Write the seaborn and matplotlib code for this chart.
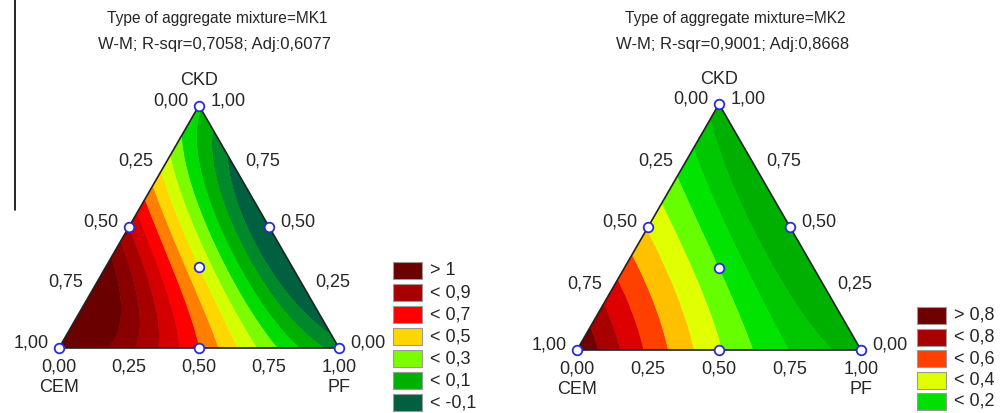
import numpy as np
import matplotlib
matplotlib.use("Agg")
import matplotlib.pyplot as plt
import matplotlib.tri as mtri
from matplotlib.patches import Rectangle
import seaborn as sns
import pandas as pd

# Mixture components and axis ticks
components = ["CEM", "PF", "CKD"]
tick_values = [0.0, 0.25, 0.5, 0.75, 1.0]
tick_labels = ["0,00", "0,25", "0,50", "0,75", "1,00"]

# Scheffé cubic model for W-M, aggregate mixture MK1
mk1_linear = [1.11, -0.05, 0.12]      # CEM, PF, CKD
mk1_binary = [0.28, 0.74, -1.14]      # CEM*PF, CEM*CKD, PF*CKD
mk1_cubic = [0.55, 1.5, 0.0]          # CEM*PF*(CEM-PF), CEM*CKD*(CEM-CKD), PF*CKD*(PF-CKD)
mk1_ternary = 0.5                     # CEM*PF*CKD
mk1_title = ["Type of aggregate mixture=MK1", "W-M; R-sqr=0,7058; Adj:0,6077"]
mk1_levels = [-0.1, 0.0, 0.1, 0.2, 0.3, 0.4, 0.5, 0.6, 0.7, 0.8, 0.9, 1.0]
mk1_colors = ["#006040", "#00892a", "#00b000", "#00dc00", "#7cfc00", "#d4ff00",
              "#ffd700", "#ff8000", "#ff0000", "#d40000", "#a80000", "#8a0000", "#6b0000"]
mk1_legend_labels = ["> 1", "< 0,9", "< 0,7", "< 0,5", "< 0,3", "< 0,1", "< -0,1"]
mk1_legend_colors = ["#6b0000", "#a80000", "#ff0000", "#ffd700", "#7cfc00", "#00b000", "#006040"]

# Scheffé cubic model for W-M, aggregate mixture MK2
mk2_linear = [0.9, -0.05, -0.05]
mk2_binary = [-0.46, -0.14, -0.4]
mk2_cubic = [0.05, 0.0, 0.0]
mk2_ternary = 1.2
mk2_title = ["Type of aggregate mixture=MK2", "W-M; R-sqr=0,9001; Adj:0,8668"]
mk2_levels = [0.0, 0.1, 0.2, 0.3, 0.4, 0.5, 0.6, 0.7, 0.8]
mk2_colors = ["#00b000", "#00c800", "#00e400", "#66ff00", "#e0ff00",
              "#ffc000", "#ff4000", "#dc0000", "#a80000", "#6e0000"]
mk2_legend_labels = ["> 0,8", "< 0,8", "< 0,6", "< 0,4", "< 0,2"]
mk2_legend_colors = ["#6e0000", "#a80000", "#ff4000", "#e0ff00", "#00e000"]

# Simplex-centroid design points (CEM, PF, CKD)
design = pd.DataFrame({
    "CEM": [1, 0, 0, 0.5, 0.5, 0, 1 / 3],
    "PF": [0, 1, 0, 0.5, 0, 0.5, 1 / 3],
    "CKD": [0, 0, 1, 0, 0.5, 0.5, 1 / 3],
})

H = np.sqrt(3) / 2
W_PX, H_PX = 1000, 413


def to_xy(pf, ckd):
    return np.asarray(pf) + 0.5 * np.asarray(ckd), H * np.asarray(ckd)


def response(x1, x2, x3, lin, bin_, cub, ter):
    return (lin[0] * x1 + lin[1] * x2 + lin[2] * x3
            + bin_[0] * x1 * x2 + bin_[1] * x1 * x3 + bin_[2] * x2 * x3
            + cub[0] * x1 * x2 * (x1 - x2) + cub[1] * x1 * x3 * (x1 - x3)
            + cub[2] * x2 * x3 * (x2 - x3) + ter * x1 * x2 * x3)


sns.set_style("white")
plt.rcParams["font.family"] = ["Liberation Sans", "DejaVu Sans"]

fig = plt.figure(figsize=(W_PX / 100, H_PX / 100), dpi=100)

base = mtri.Triangulation([0, 1, 0.5], [0, 0, H])
fine = mtri.UniformTriRefiner(base).refine_triangulation(subdiv=7)
ckd_f = fine.y / H
pf_f = fine.x - 0.5 * ckd_f
cem_f = 1 - pf_f - ckd_f


def panel(left_px, bottom_px, side_px, lin, bin_, cub, ter, levels, colors, title, title_x):
    ax = fig.add_axes([left_px / W_PX, (H_PX - bottom_px) / H_PX,
                       side_px / W_PX, side_px * H / H_PX])
    z = response(cem_f, pf_f, ckd_f, lin, bin_, cub, ter)
    bounds = [-100] + list(levels) + [100]
    for _ in range(2):
        ax.tricontourf(fine, z, levels=bounds, colors=colors, antialiased=True)
    ax.plot([0, 1, 0.5, 0], [0, 0, H, 0], color="#222222", lw=1.2, clip_on=False, zorder=4)
    ax.set_xlim(0, 1)
    ax.set_ylim(0, H)
    ax.axis("off")

    px, py = to_xy(design["PF"], design["CKD"])
    sns.scatterplot(x=px, y=py, ax=ax, s=48, facecolor="white", edgecolor="#2b2bd6",
                    linewidth=1.3, zorder=6, clip_on=False, legend=False)

    fs = 13
    for v, lab in zip(tick_values, tick_labels):
        # CEM axis along the left edge
        x, y = to_xy(0, 1 - v)
        ax.annotate(lab, (x, y), xytext=(-28, 5), textcoords="offset pixels",
                    ha="center", va="center", fontsize=fs)
        # CKD axis along the right edge
        x, y = to_xy(1 - v, v)
        ax.annotate(lab, (x, y), xytext=(29, 5), textcoords="offset pixels",
                    ha="center", va="center", fontsize=fs)
        # PF axis along the bottom edge
        x, y = to_xy(v, 0)
        ax.annotate(lab, (x, y), xytext=(0, -19), textcoords="offset pixels",
                    ha="center", va="center", fontsize=fs)
    ax.annotate("CEM", (0, 0), xytext=(0, -39), textcoords="offset pixels",
                ha="center", va="center", fontsize=fs)
    ax.annotate("PF", (1, 0), xytext=(0, -39), textcoords="offset pixels",
                ha="center", va="center", fontsize=fs)
    ax.annotate("CKD", (0.5, H), xytext=(0, 25), textcoords="offset pixels",
                ha="center", va="center", fontsize=fs)
    fig.text(title_x / W_PX, 1 - 18 / H_PX, title[0], ha="center", va="center", fontsize=11.2)
    fig.text((title_x - 2) / W_PX, 1 - 45 / H_PX, title[1], ha="center", va="center",
             fontsize=12)
    return ax


def legend(x_px, top_px, pitch, labels, colors):
    for i, (lab, col) in enumerate(zip(labels, colors)):
        y = top_px + i * pitch
        fig.patches.append(Rectangle((x_px / W_PX, 1 - (y + 17) / H_PX), 29 / W_PX, 17 / H_PX,
                                     transform=fig.transFigure, facecolor=col,
                                     edgecolor="#9a9a9a", lw=0.8))
        fig.text((x_px + 37) / W_PX, 1 - (y + 8.5) / H_PX, lab, ha="left", va="center",
                 fontsize=13)


panel(59, 348, 280, mk1_linear, mk1_binary, mk1_cubic, mk1_ternary,
      mk1_levels, mk1_colors, mk1_title, 217)
panel(577, 350, 284, mk2_linear, mk2_binary, mk2_cubic, mk2_ternary,
      mk2_levels, mk2_colors, mk2_title, 735)
legend(393, 262, 22, mk1_legend_labels, mk1_legend_colors)
legend(917, 307, 21.5, mk2_legend_labels, mk2_legend_colors)

# thin vertical rule at the left margin
fig.add_artist(plt.Line2D([15 / W_PX, 15 / W_PX], [1, 1 - 210 / H_PX], color="black", lw=1.2))

fig.savefig("out.png", dpi=100)
